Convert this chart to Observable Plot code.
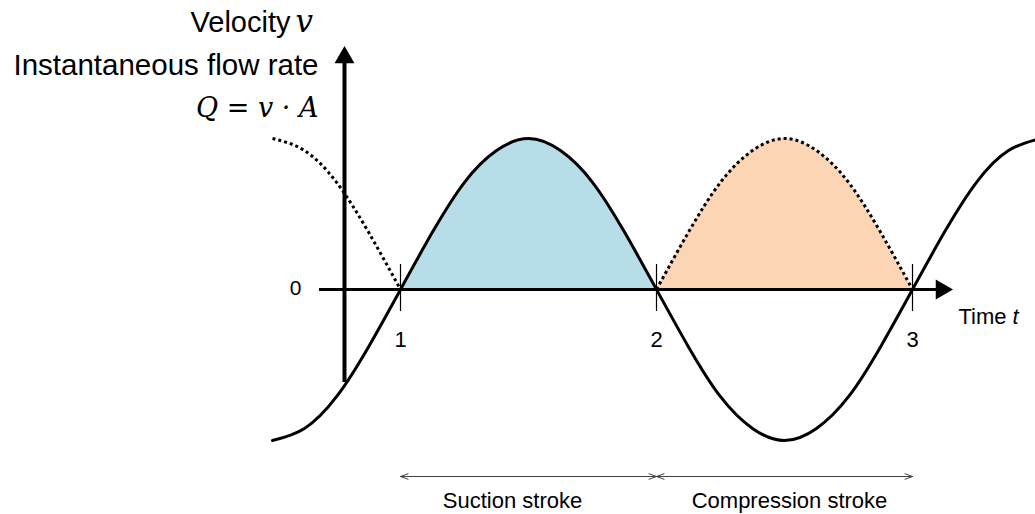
<!DOCTYPE html>
<html><head><meta charset="utf-8">
<script src="https://cdn.jsdelivr.net/npm/d3@7"></script>
<script src="https://cdn.jsdelivr.net/npm/@observablehq/plot@0.6"></script>
<style>html,body{margin:0;padding:0;background:#fff;overflow:hidden}</style>
</head><body><div id="chart"></div>
<script>
// ---- data ----
const time = [0.5, 0.625, 0.75, 0.875, 1.0, 1.125, 1.25, 1.375, 1.5, 1.625, 1.75, 1.875, 2.0,
              2.125, 2.25, 2.375, 2.5, 2.625, 2.75, 2.875, 3.0, 3.125, 3.25, 3.375, 3.5];
const velocity = [-1.00, -0.92, -0.71, -0.38, 0.00, 0.38, 0.71, 0.92, 1.00, 0.92, 0.71, 0.38, 0.00,
                  -0.38, -0.71, -0.92, -1.00, -0.92, -0.71, -0.38, 0.00, 0.38, 0.71, 0.92, 1.00];
const flowTime = [0.5, 0.625, 0.75, 0.875, 1.0, 1.125, 1.25, 1.375, 1.5, 1.625, 1.75, 1.875, 2.0,
                  2.125, 2.25, 2.375, 2.5, 2.625, 2.75, 2.875, 3.0];
const flowRate = [1.00, 0.92, 0.71, 0.38, 0.00, 0, 0, 0, 0, 0, 0, 0, 0.00,
                  0.38, 0.71, 0.92, 1.00, 0.92, 0.71, 0.38, 0.00];
const flowSegmentBreaks = [1.0, 2.0];       // the dotted curve has kinks here
const tickValues = [1, 2, 3];
const tickLabels = ["1", "2", "3"];
const zeroLabel = "0";
const strokeNames = ["Suction stroke", "Compression stroke"];
const strokeStart = [1, 2];
const strokeEnd = [2, 3];

// ---- tables ----
const vRows = time.map((t, i) => ({t, v: velocity[i]}));
const qRows = [];
flowTime.forEach((t, i) => {
  const seg = t <= flowSegmentBreaks[0] ? 0 : t <= flowSegmentBreaks[1] ? 1 : 2;
  qRows.push({t, q: flowRate[i], seg});
  if (flowSegmentBreaks.includes(t)) qRows.push({t, q: flowRate[i], seg: seg + 1});
});
const blueRows = vRows.filter(d => d.t >= 1 && d.t <= 2);
const orangeRows = qRows.filter(d => d.seg === 2);

// ---- layout helpers (pixel -> data) ----
const W = 1035, H = 514;
const tx = px => 1 + (px - 400) / 256;
const vy = py => (289 - py) / 151;
const FONT = "Liberation Sans, Arial, sans-serif";
const MATH = "DejaVu Serif, Liberation Serif, serif";
const labelShift = [-16 / 256, 5 / 256];   // stroke labels sit slightly off-centre

const strokeRows = strokeNames.map((name, i) => ({
  name, a: strokeStart[i], b: strokeEnd[i],
  m: (strokeStart[i] + strokeEnd[i]) / 2,
  lx: (strokeStart[i] + strokeEnd[i]) / 2 + labelShift[i]
}));

const chart = Plot.plot({
  width: W, height: H,
  marginTop: 0, marginRight: 0, marginBottom: 0, marginLeft: 0,
  x: {domain: [tx(0), tx(W)], axis: null},
  y: {domain: [vy(H), vy(0)], axis: null},
  style: {fontFamily: FONT, background: "white", color: "black"},
  marks: [
    Plot.areaY(blueRows, {x: "t", y: "v", curve: "natural", fill: "#b7dee8"}),
    Plot.areaY(orangeRows, {x: "t", y: "q", curve: "natural", fill: "#fcd5b5"}),
    // axes
    Plot.ruleY([0], {x1: tx(319), x2: tx(940), stroke: "black", strokeWidth: 3}),
    Plot.ruleX([tx(344)], {y1: vy(382), y2: vy(58), stroke: "black", strokeWidth: 4}),
    Plot.dot([0], {x: tx(941), y: 0, symbol: "triangle", rotate: 90, r: 7.4, fill: "black", stroke: null}),
    Plot.dot([0], {x: tx(344), y: vy(57), symbol: "triangle", r: 7.4, fill: "black", stroke: null}),
    // ticks
    Plot.ruleX(tickValues, {y1: vy(264), y2: vy(311), stroke: "black", strokeWidth: 1.2}),
    // curves
    Plot.line(qRows, {x: "t", y: "q", z: "seg", curve: "natural", stroke: "black", strokeWidth: 3,
                      strokeDasharray: "3,3", strokeLinecap: "butt"}),
    Plot.line(vRows, {x: "t", y: "v", curve: "natural", stroke: "black", strokeWidth: 3, clip: true}),
    // tick labels
    Plot.text(tickValues, {x: d => d, y: vy(339), text: (d, i) => tickLabels[i], fontSize: 22, fill: "black"}),
    Plot.text([zeroLabel], {x: tx(295), y: vy(288), text: d => d, fontSize: 21, fill: "black"}),
    // axis titles
    Plot.text(["Velocity"], {x: tx(290), y: vy(22), text: d => d, textAnchor: "end", fontSize: 29, fill: "black"}),
    Plot.text(["v"], {x: tx(295), y: vy(22), text: d => d, textAnchor: "start", fontSize: 31, fontStyle: "italic", fontFamily: MATH, fill: "black"}),
    Plot.text(["Instantaneous flow rate"], {x: tx(318), y: vy(65), text: d => d, textAnchor: "end", fontSize: 29.5, fill: "black"}),
    Plot.text(["Q = v · A"], {x: tx(318), y: vy(108), text: d => d, textAnchor: "end", fontSize: 27, fontStyle: "italic", fontFamily: MATH, fill: "black"}),
    Plot.text(["Time"], {x: tx(958), y: vy(316), text: d => d, textAnchor: "start", fontSize: 22, fill: "black"}),
    Plot.text(["t"], {x: tx(1012), y: vy(316), text: d => d, textAnchor: "start", fontSize: 22, fontStyle: "italic", fill: "black"}),
    // stroke arrows
    Plot.arrow(strokeRows, {x1: "m", x2: "a", y1: vy(476), y2: vy(476), stroke: "#404040", strokeWidth: 1, headLength: 12, headAngle: 40}),
    Plot.arrow(strokeRows, {x1: "m", x2: "b", y1: vy(476), y2: vy(476), stroke: "#404040", strokeWidth: 1, headLength: 12, headAngle: 40}),
    Plot.text(strokeRows, {x: "lx", y: vy(500), text: "name", fontSize: 22, fill: "black"})
  ]
});
document.getElementById("chart").appendChild(chart);
</script>
</body></html>
